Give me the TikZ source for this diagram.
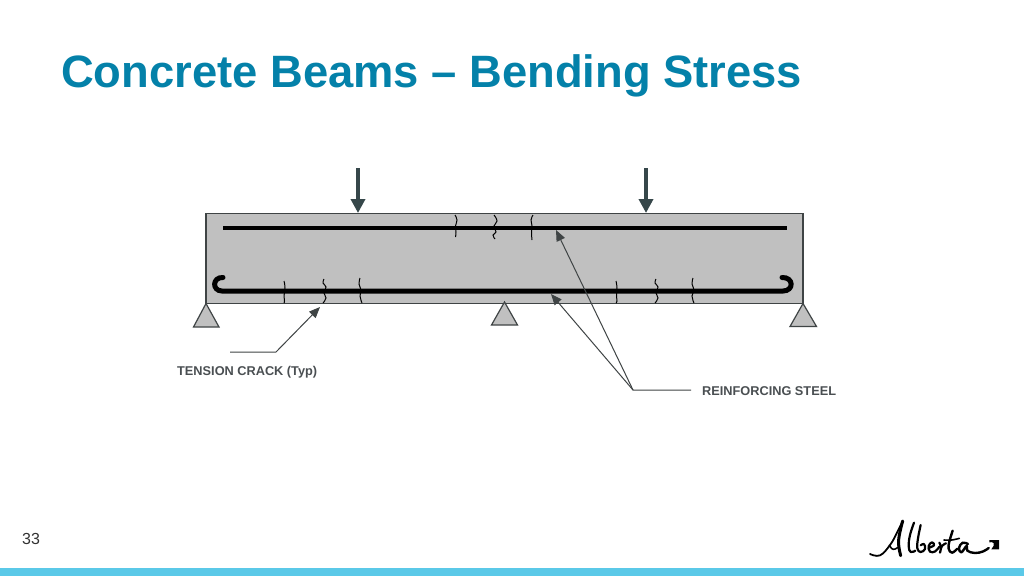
\documentclass[tikz,border=0pt]{standalone}
\usepackage{fontspec}
\setmainfont{Liberation Sans}
\usetikzlibrary{arrows.meta}
\definecolor{titleblue}{HTML}{0481A9}
\definecolor{stripblue}{HTML}{5BC9E8}
\definecolor{beamgrey}{HTML}{C0C0C0}
\definecolor{edgegrey}{HTML}{3F4445}
\definecolor{loaddark}{HTML}{36474A}
\definecolor{labelgrey}{HTML}{4A4F52}
\tikzset{
  titletext/.style={anchor=west,inner sep=0,text=titleblue,font=\fontsize{45.35}{50}\selectfont\bfseries},
  smalllabel/.style={anchor=west,inner sep=0,text=labelgrey,font=\fontsize{12.75}{14}\selectfont\bfseries},
  pagenum/.style={anchor=west,inner sep=0,text=black!80,font=\fontsize{16}{18}\selectfont},
  beam/.style={draw=edgegrey,fill=beamgrey,line width=1.2pt},
  bar/.style={draw=black,line width=4.8pt},
  hookbar/.style={draw=black,line width=5pt,line cap=round},
  crack/.style={draw=black,line width=1pt},
  support/.style={draw=edgegrey,fill=beamgrey,line width=1.2pt,line join=miter},
  load/.style={draw=loaddark,line width=4pt,-{Triangle[length=14pt,width=14pt]}},
  leader/.style={draw=edgegrey,line width=1pt},
  leaderarrow/.style={leader,-{Triangle[length=11pt,width=9pt]}},
  logo/.style={draw=black,line cap=round,line join=round}
}
\begin{document}
\begin{tikzpicture}[x=1pt,y=-1pt]
\useasboundingbox (0,0) rectangle (1024,576);
\fill[white] (0,0) rectangle (1024,576);
\fill[stripblue] (0,568) rectangle (1024,576);
\node[titletext] (title) at (61,76) {Concrete Beams – Bending Stress};
\node[pagenum] (page) at (22,538.5) {33};

% beam
\draw[beam] (206,213.5) rectangle (803,303.5);
\coordinate (topL) at (223,228);
\coordinate (topR) at (787,228);
\draw[bar] (topL) -- (topR);
\draw[hookbar] (223,277.5) .. controls (212,277) and (212,291) .. (222,291) -- (783,291) .. controls (794,291) and (794,277) .. (782,277.5);

% cracks top
\draw[crack] plot[smooth,tension=0.8] coordinates {(455,215) (457,220) (455.5,226) (456,232) (455.5,237)};
\draw[crack] plot[smooth,tension=0.8] coordinates {(494,215) (497,221) (494,226) (496,232) (493,235) (495,239)};
\draw[crack] plot[smooth,tension=0.8] coordinates {(533,215) (531,220) (532,226) (531.5,232) (532,240)};
% cracks bottom
\draw[crack] plot[smooth,tension=0.8] coordinates {(284,281) (285,288) (284,296) (284.5,301) (284,303)};
\draw[crack] plot[smooth,tension=0.8] coordinates {(324,279) (323,283) (326,287) (324,293) (326,298) (323,303)};
\draw[crack] plot[smooth,tension=0.8] coordinates {(360,278) (359,284) (361,290) (360,296) (362,303)};
\draw[crack] plot[smooth,tension=0.8] coordinates {(616,281) (617,288) (616.5,296) (617,301) (616,303)};
\draw[crack] plot[smooth,tension=0.8] coordinates {(656,279) (655,283) (658,287) (656,293) (658,298) (655,303)};
\draw[crack] plot[smooth,tension=0.8] coordinates {(693,278) (692,284) (694,290) (692,296) (694,303)};

% supports
\draw[support] (206,303.5) -- (219,327) -- (193.5,327) -- cycle;
\draw[support] (504.5,302) -- (517.5,325) -- (491.5,325) -- cycle;
\draw[support] (803,303.5) -- (816.5,326.5) -- (790,326.5) -- cycle;

% loads
\coordinate (load1a) at (358,168);
\coordinate (load1b) at (358,213);
\coordinate (load2a) at (646,168);
\coordinate (load2b) at (646,213);
\draw[load] (load1a) -- (load1b);
\draw[load] (load2a) -- (load2b);

% leaders
\node[smalllabel] (tc) at (177,372) {TENSION CRACK (Typ)};
\node[smalllabel] (rs) at (702,391) {REINFORCING STEEL};
\coordinate (tcA) at (230,352);
\coordinate (tcB) at (276,352);
\coordinate (tcT) at (320,307);
\draw[leaderarrow] (tcA) -- (tcB) -- (tcT);
\coordinate (rsA) at (691,390);
\coordinate (rsB) at (633,390);
\coordinate (rsT1) at (556,230);
\coordinate (rsT2) at (551,294);
\draw[leaderarrow] (rsA) -- (rsB) -- (rsT1);
\draw[leaderarrow] (rsB) -- (rsT2);

% logo
\begin{scope}[shift={(860,510)},x=0.3333pt,y=-0.3333pt]
\draw[logo,line width=1.8pt] plot[smooth,tension=0.7] coordinates {(30,132) (60,136) (90,105) (110,70) (128,33)};
\draw[logo,line width=3pt] plot[smooth,tension=0.7] coordinates {(128,33) (118,75) (116,105) (122,137)};
\draw[logo,line width=1.6pt] plot[smooth,tension=0.7] coordinates {(88,106) (100,118) (117,110)};
\draw[logo,line width=2.2pt] plot[smooth,tension=0.7] coordinates {(162,38) (150,75) (146,108) (152,126) (166,122)};
\draw[logo,line width=2.2pt] plot[smooth,tension=0.7] coordinates {(182,45) (174,85) (172,115) (182,126) (195,117) (192,102) (182,106)};
\draw[logo,line width=2.2pt] plot[smooth,tension=0.7] coordinates {(205,114) (222,106) (216,97) (206,108) (210,125) (226,124) (238,110)};
\draw[logo,line width=2.2pt] plot[smooth,tension=0.7] coordinates {(238,98) (243,112) (240,128) (246,108) (258,100)};
\draw[logo,line width=2.4pt] plot[smooth,tension=0.7] coordinates {(278,62) (268,95) (266,116) (276,128) (292,116)};
\draw[logo,line width=1.6pt] plot[smooth,tension=0.7] coordinates {(252,90) (275,90) (298,85)};
\draw[logo,line width=2.4pt] plot[smooth,tension=0.7] coordinates {(324,102) (308,98) (297,114) (304,127) (320,108) (322,122) (345,129) (370,124) (386,114)};
\fill[black] (388,90) -- (417,90) -- (417,118) -- (394,118) .. controls (400,112) and (403,104) .. (401,99) .. controls (398,96) and (392,96) .. (388,97) -- cycle;
\end{scope}
\end{tikzpicture}
\end{document}
